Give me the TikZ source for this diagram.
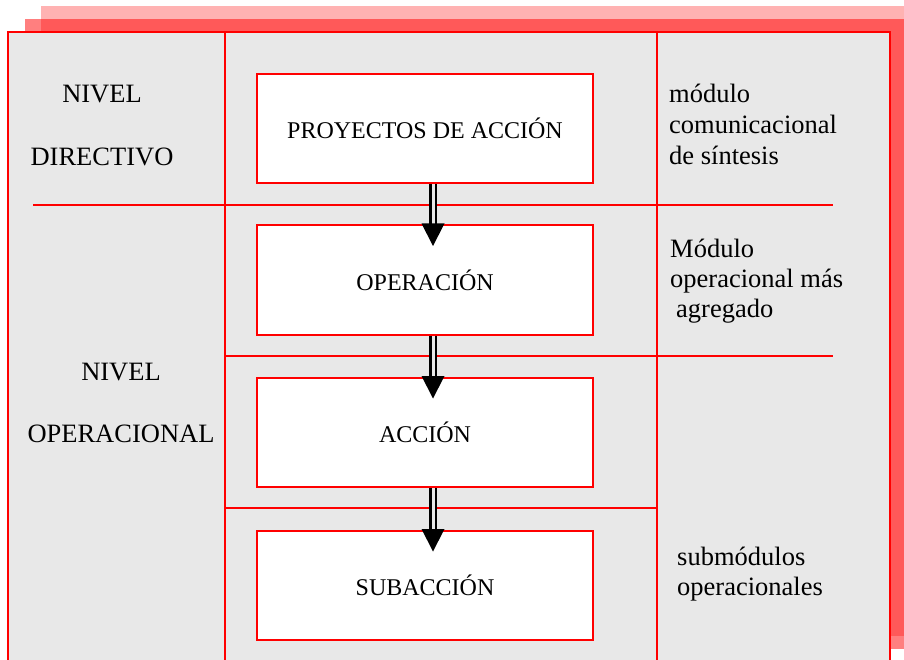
\documentclass[tikz,border=0pt]{standalone}
\usepackage{fontspec}
\setmainfont{Liberation Serif}
\usetikzlibrary{calc}
\definecolor{panel}{HTML}{E8E8E8}
\begin{document}
\begin{tikzpicture}[x=1pt,y=-1pt,
  box/.style={draw=red, line width=2pt, fill=white, minimum width=336pt, minimum height=109pt, inner sep=0pt, font=\fontsize{24}{28}\selectfont},
  gridline/.style={red, line width=1.5pt},
  lbl/.style={inner sep=0pt, font=\fontsize{26.5}{30}\selectfont},
  shaft/.style={draw=black, line width=2.5pt, double=panel, double distance=3pt},
  head/.style={fill=black},
]
\useasboundingbox (0,0) rectangle (904,660);
\begin{scope}
\clip (0,0) rectangle (904,660);
\fill[red, opacity=0.3] (41,6) rectangle (923,636);
\fill[red, opacity=0.5] (25,19) rectangle (907,649);
\draw[red, line width=2pt, fill=panel] (8,32) rectangle (890,662);
\draw[gridline] (225,32) -- (225,662);
\draw[gridline] (657,32) -- (657,662);
\end{scope}
\draw[gridline] (33,205) -- (833,205);
\draw[gridline] (225,356) -- (833,356);
\draw[gridline] (225,508) -- (657,508);

\node[box] (b1) at (425,128.5) {PROYECTOS DE ACCIÓN};
\node[box] (b2) at (425,280) {OPERACIÓN};
\node[box] (b3) at (425,432.5) {ACCIÓN};
\node[box] (b4) at (425,585.5) {SUBACCIÓN};

\foreach \a/\b in {b1/b2, b2/b3, b3/b4}{
  \draw[shaft] ([xshift=8pt]\a.south) -- ([xshift=8pt]\b.north);
  \fill[head] ($(\b.north)+(-3.5,-1)$) -- ($(\b.north)+(19.5,-1)$) -- ($(\b.north)+(8,21.5)$) -- cycle;
}

\node[lbl, align=center, anchor=base, font=\fontsize{26.5}{63}\selectfont] (l1) at (102,166) {NIVEL\\DIRECTIVO};
\node[lbl, align=center, anchor=base, font=\fontsize{26.5}{62}\selectfont] (l2) at (121,442) {NIVEL\\OPERACIONAL};

\node[lbl, align=left, anchor=base west, font=\fontsize{26.5}{31}\selectfont] (r1) at (669,165) {módulo\\comunicacional\\de síntesis};
\node[lbl, align=left, anchor=base west] (r2) at (670,317) {Módulo\\operacional más\\\hspace*{6pt}agregado};
\node[lbl, align=left, anchor=base west] (r3) at (677,595) {submódulos\\operacionales};
\end{tikzpicture}
\end{document}
